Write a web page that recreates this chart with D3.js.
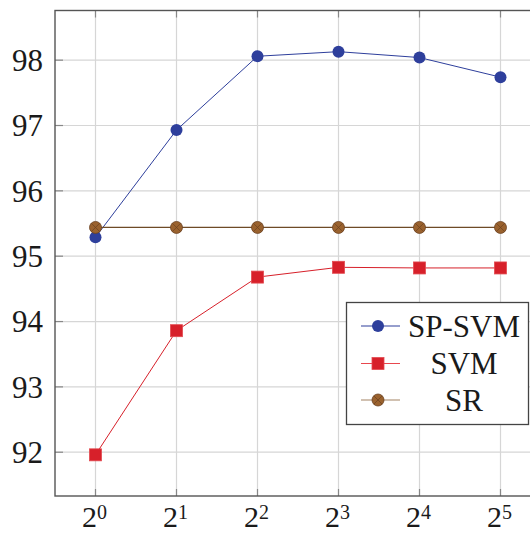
<!DOCTYPE html>
<html><head><meta charset="utf-8">
<script src="https://cdn.jsdelivr.net/npm/d3@7"></script>
<style>
html,body{margin:0;padding:0;background:#fff;overflow:hidden}
svg{display:block}
</style></head>
<body>
<script>
const exponents = [0, 1, 2, 3, 4, 5];
const yTicks = [92, 93, 94, 95, 96, 97, 98];
const spSvm = [95.29, 96.93, 98.06, 98.13, 98.04, 97.74];
const svm = [91.96, 93.86, 94.68, 94.83, 94.82, 94.82];
const sr = [95.44, 95.44, 95.44, 95.44, 95.44, 95.44];
const seriesNames = ["SP-SVM", "SVM", "SR"];

const FONT = "'Liberation Serif', 'Times New Roman', Tinos, 'DejaVu Serif', serif";
const W = 530, H = 535;
const L = 55, T = 10.5, B = 496, R = 541;

const svg = d3.select("body").append("svg").attr("width", W).attr("height", H)
  .attr("font-family", FONT);

const x = d3.scaleLinear().domain([-0.5, 5.5]).range([L, R]);
const y = d3.scaleLinear().domain([91.33, 98.76]).range([B, T]);

// grid
const grid = svg.append("g").attr("stroke", "#d6d6d6").attr("stroke-width", 1.2);
exponents.forEach(e => grid.append("line").attr("x1", x(e)).attr("x2", x(e)).attr("y1", T).attr("y2", B));
yTicks.forEach(v => grid.append("line").attr("x1", L).attr("x2", R).attr("y1", y(v)).attr("y2", y(v)));

// ticks (inside)
const tk = svg.append("g").attr("stroke", "#888").attr("stroke-width", 1.2);
exponents.forEach(e => {
  tk.append("line").attr("x1", x(e)).attr("x2", x(e)).attr("y1", B).attr("y2", B - 7);
  tk.append("line").attr("x1", x(e)).attr("x2", x(e)).attr("y1", T).attr("y2", T + 7);
});
yTicks.forEach(v => {
  tk.append("line").attr("x1", L).attr("x2", L + 8).attr("y1", y(v)).attr("y2", y(v));
});

// frame
svg.append("rect").attr("x", L).attr("y", T).attr("width", R - L).attr("height", B - T)
  .attr("fill", "none").attr("stroke", "#555").attr("stroke-width", 1.4);

// y labels
yTicks.forEach(v => svg.append("text").attr("x", 43).attr("y", y(v)).attr("dy", "0.35em")
  .attr("text-anchor", "end").attr("font-size", 31).attr("fill", "#1a1a1a").text(v));

// x labels
exponents.forEach(e => {
  const t = svg.append("text").attr("x", x(e) - 1).attr("y", 527).attr("text-anchor", "middle")
    .attr("font-size", 30).attr("fill", "#1a1a1a");
  t.append("tspan").text("2");
  t.append("tspan").attr("font-size", 20).attr("dy", -8).text(e);
});

const line = d3.line().x((d, i) => x(exponents[i])).y(d => y(d));

const colors = { sp: "#2e3f9c", svm: "#d7202a", sr: "#6e4a26", srFill: "#9a622e" };

function circleMarker(g, cx, cy, fill) {
  g.append("circle").attr("cx", cx).attr("cy", cy).attr("r", 6).attr("fill", fill);
}
function squareMarker(g, cx, cy) {
  g.append("rect").attr("x", cx - 6).attr("y", cy - 6).attr("width", 12).attr("height", 12)
    .attr("fill", colors.svm).attr("stroke", "#e34a50").attr("stroke-width", 0.8);
}
function srMarker(g, cx, cy) {
  g.append("circle").attr("cx", cx).attr("cy", cy).attr("r", 6).attr("fill", colors.srFill)
    .attr("stroke", "#6a4020").attr("stroke-width", 0.8);
  const d = 4.2;
  g.append("path").attr("d", `M${cx-d},${cy-d}L${cx+d},${cy+d}M${cx-d},${cy+d}L${cx+d},${cy-d}`)
    .attr("stroke", "#6a4020").attr("stroke-width", 0.7);
}

// SP-SVM
svg.append("path").datum(spSvm).attr("d", line).attr("fill", "none").attr("stroke", colors.sp).attr("stroke-width", 1);
const g1 = svg.append("g");
spSvm.forEach((v, i) => circleMarker(g1, x(exponents[i]), y(v), colors.sp));

// SVM
svg.append("path").datum(svm).attr("d", line).attr("fill", "none").attr("stroke", colors.svm).attr("stroke-width", 1);
const g2 = svg.append("g");
svm.forEach((v, i) => squareMarker(g2, x(exponents[i]), y(v)));

// SR
svg.append("path").datum(sr).attr("d", line).attr("fill", "none").attr("stroke", colors.sr).attr("stroke-width", 1.2);
const g3 = svg.append("g");
sr.forEach((v, i) => srMarker(g3, x(exponents[i]), y(v)));

// legend
const lg = svg.append("g");
lg.append("rect").attr("x", 346.5).attr("y", 302.5).attr("width", 182).attr("height", 122)
  .attr("fill", "#fff").attr("stroke", "#444").attr("stroke-width", 1.3);
const rows = [326, 363.5, 400];
const lineCols = [colors.sp, "#e8474e", "#a48464"];
rows.forEach((ry, i) => {
  lg.append("line").attr("x1", 361).attr("x2", 400).attr("y1", ry).attr("y2", ry)
    .attr("stroke", lineCols[i]).attr("stroke-width", 1.2);
  if (i === 0) circleMarker(lg, 378, ry, colors.sp);
  else if (i === 1) squareMarker(lg, 378, ry);
  else srMarker(lg, 378, ry);
  lg.append("text").attr("x", 464).attr("y", ry).attr("dy", "0.34em").attr("text-anchor", "middle")
    .attr("font-size", 31).attr("fill", "#1a1a1a").text(seriesNames[i]);
});
</script>
</body></html>
